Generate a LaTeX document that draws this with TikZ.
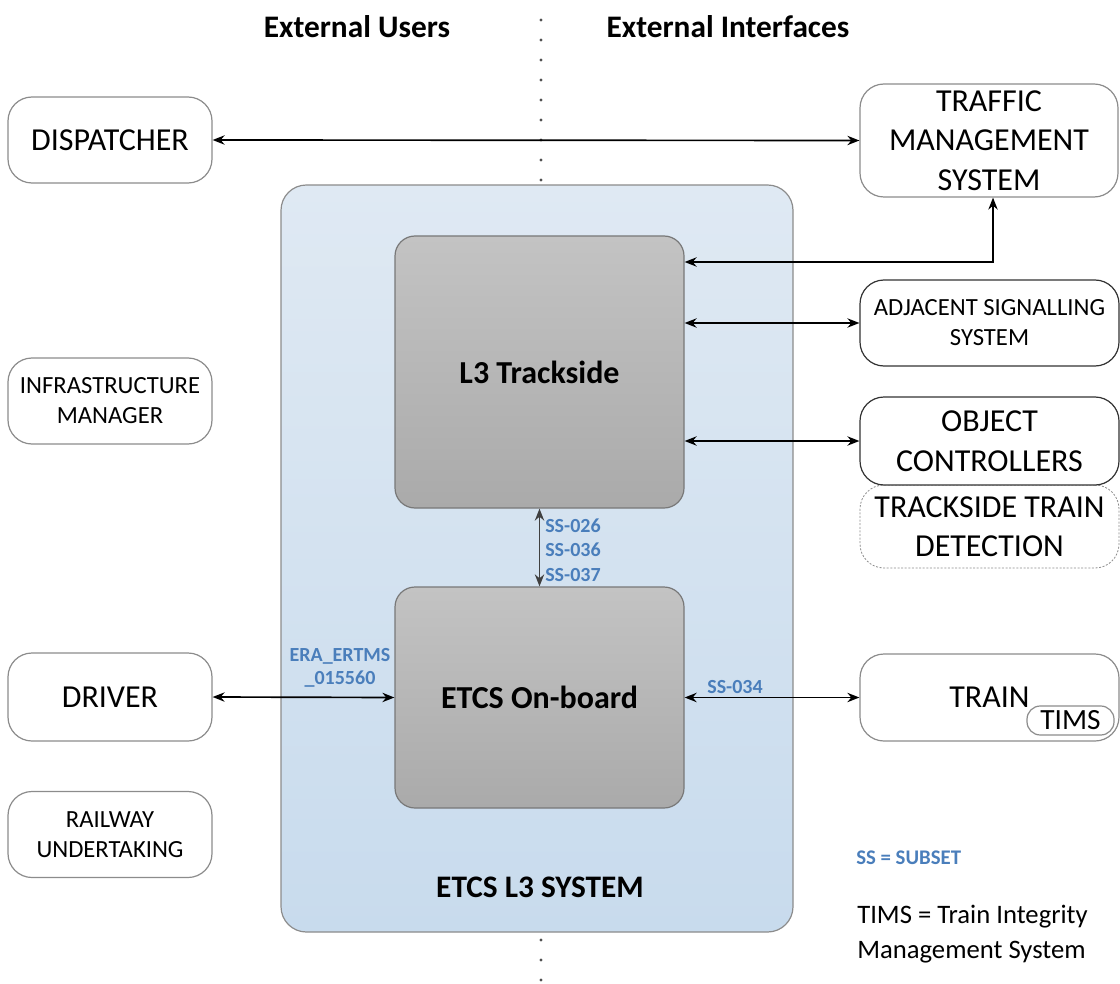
\documentclass[tikz,border=0pt]{standalone}
\usepackage{fontspec}
\setmainfont{Carlito}
\usetikzlibrary{arrows.meta,positioning}

\definecolor{boxline}{RGB}{140,140,140}
\definecolor{innerline}{RGB}{120,120,120}
\definecolor{systop}{RGB}{223,233,243}
\definecolor{sysbot}{RGB}{200,219,237}
\definecolor{greytop}{RGB}{195,195,195}
\definecolor{greybot}{RGB}{170,170,170}
\definecolor{sslabel}{RGB}{74,126,187}
\definecolor{dotgrey}{RGB}{80,80,80}

\tikzset{
	extbox/.style={draw=boxline, fill=white, rounded corners=18pt, line width=0.9pt, align=center, inner sep=0pt, font=\fontsize{24}{29.6}\selectfont},
	smallbox/.style={extbox, font=\fontsize{18.5}{22.5}\selectfont},
	corebox/.style={draw=innerline, top color=greytop, bottom color=greybot, rounded corners=15pt, line width=0.9pt, inner sep=0pt, font=\bfseries\fontsize{24}{29}\selectfont},
	conn/.style={{Stealth[length=9pt,width=7pt]}-{Stealth[length=9pt,width=7pt]}, line width=1.25pt},
	sstext/.style={text=sslabel, font=\bfseries\fontsize{15}{18.3}\selectfont, inner sep=0pt},
	headtext/.style={font=\bfseries\fontsize{23.5}{28}\selectfont, inner sep=0pt}
}

\begin{document}
\begin{tikzpicture}[x=0.75pt,y=0.75pt,yscale=-1,xscale=1]
	\useasboundingbox (0,0) rectangle (1120,984);
	
	% dotted divider
	\draw [dotgrey, line width=2.4pt, line cap=round, dash pattern=on 0pt off 15pt] (541,20) -- (541,984);
	
	% headings
	\node (hdusers) [headtext] at (357,27) {External Users};
	\node (hdifaces) [headtext] at (728,27) {External Interfaces};
	
	% ETCS L3 system
	\node (sys) [draw=boxline, top color=systop, bottom color=sysbot, rounded corners=19pt, line width=0.9pt, minimum width=384pt, minimum height=560.25pt] at (537,558.5) {};
	\node (systitle) [headtext] at (540,887) {ETCS L3 SYSTEM};
	\node (l3) [corebox, minimum width=216.75pt, minimum height=204pt] at (539.5,372) {L3 Trackside};
	\node (onb) [corebox, minimum width=216.75pt, minimum height=165.75pt] at (539.5,697.5) {ETCS On-board};
	
	% external users
	\node (disp) [extbox, minimum width=153pt, minimum height=64.5pt] at (110,140) {DISPATCHER};
	\node (infra) [smallbox, minimum width=153pt, minimum height=64.5pt] at (110,401) {INFRASTRUCTURE\\MANAGER};
	\node (driver) [extbox, minimum width=153pt, minimum height=66pt] at (110,697) {DRIVER};
	\node (railway) [smallbox, minimum width=153pt, minimum height=64.5pt] at (110,834.5) {RAILWAY\\UNDERTAKING};
	
	% external interfaces
	\node (tms) [extbox, minimum width=193.5pt, minimum height=84.75pt] at (989,140.5) {TRAFFIC\\MANAGEMENT\\SYSTEM};
	\node (adj) [smallbox, draw=black!80, minimum width=194.25pt, minimum height=64.5pt] at (989.5,323) {ADJACENT SIGNALLING\\SYSTEM};
	\node (ttd) [extbox, draw=boxline, line width=0.6pt, dash pattern=on 1.5pt off 1.2pt, minimum width=194.25pt, minimum height=62.25pt] at (989.5,526.5) {TRACKSIDE TRAIN\\DETECTION};
	\node (obj) [extbox, draw=black!80, minimum width=194.25pt, minimum height=66pt] at (989.5,441) {OBJECT\\CONTROLLERS};
	\node (train) [extbox, minimum width=194.25pt, minimum height=65.25pt] at (989.5,697.5) {TRAIN};
	\node (tims) [draw=boxline, fill=white, rounded corners=10pt, line width=0.9pt, inner sep=0pt, minimum width=65.25pt, minimum height=21.75pt, font=\fontsize{22}{26}\selectfont] at (1070.5,720.5) {TIMS};
	
	% connectors
	\coordinate (l3tms) at ([yshift=-82.5pt]l3.east);
	\coordinate (tmsin) at ([xshift=3pt]tms.south);
	\draw [conn] (disp.east) -- (tms.west);
	\draw [conn] (l3tms) -| (tmsin);
	\draw [conn] (l3.east |- adj.west) -- (adj.west);
	\draw [conn] (l3.east |- obj.west) -- (obj.west);
	\draw [conn, black!75] (l3.south) -- (onb.north);
	\draw [conn] (driver.east) -- (onb.west);
	\draw [conn] (onb.east) -- (train.west);
	
	% subset labels
	\node (sslist) [sstext, anchor=west, align=left] at (545,550) {SS-026\\SS-036\\SS-037};
	\node (ssdriver) [sstext, align=center, font=\bfseries\fontsize{15}{17.3}\selectfont] at (340,667.5) {ERA\_ERTMS\\\_015560};
	\node (sstrain) [sstext] at (735,687) {SS-034};
	
	% legend
	\node (sslegend) [sstext, anchor=west, font=\bfseries\fontsize{15.6}{18.3}\selectfont] at (856,858) {SS = SUBSET};
	\node (timslegend) [anchor=west, align=left, inner sep=0pt, font=\fontsize{20}{26.25}\selectfont] at (857,934.5) {TIMS = Train Integrity\\Management System};
	
\end{tikzpicture}
\end{document}
